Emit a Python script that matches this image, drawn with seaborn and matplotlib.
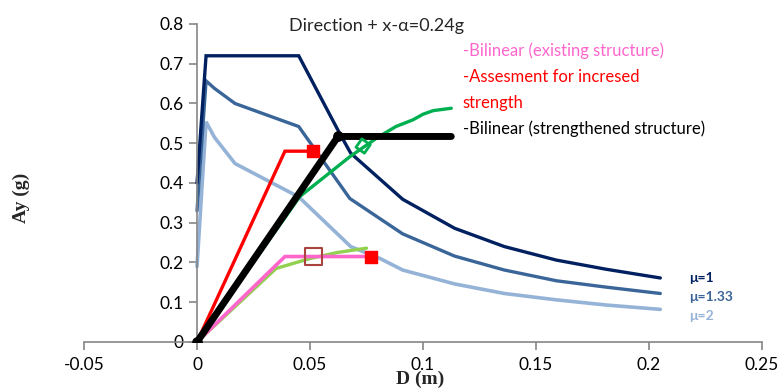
import matplotlib
matplotlib.use("Agg")
import matplotlib.pyplot as plt
import seaborn as sns
import pandas as pd

# demand spectra (ADRS) for the three ductility levels
spec_d = [0.0, 0.004, 0.045, 0.063, 0.068, 0.091, 0.114, 0.136, 0.159, 0.181, 0.205]
mu1_a = [0.40, 0.72, 0.72, 0.526, 0.475, 0.359, 0.286, 0.240, 0.206, 0.183, 0.161]
mu133_d = [0.0, 0.004, 0.0077, 0.0168, 0.045, 0.0676, 0.091, 0.114, 0.136, 0.159, 0.181, 0.205]
mu133_a = [0.33, 0.657, 0.638, 0.600, 0.542, 0.361, 0.272, 0.216, 0.181, 0.154, 0.138, 0.122]
mu2_d = [0.0, 0.004, 0.0077, 0.0168, 0.045, 0.068, 0.081, 0.091, 0.114, 0.136, 0.159, 0.181, 0.205]
mu2_a = [0.19, 0.554, 0.515, 0.449, 0.365, 0.240, 0.210, 0.181, 0.146, 0.122, 0.106, 0.093, 0.082]

# capacity curves
cap_new_d = [0.0, 0.0455, 0.0676, 0.080, 0.088, 0.0956, 0.100, 0.1045, 0.1125]
cap_new_a = [0.0, 0.366, 0.466, 0.515, 0.542, 0.559, 0.573, 0.582, 0.588]
cap_old_d = [0.0, 0.035, 0.050, 0.062, 0.075]
cap_old_a = [0.0, 0.185, 0.210, 0.225, 0.236]

# bilinear idealisations
bil_old_d = [0.0, 0.0389, 0.0772]
bil_old_a = [0.0, 0.215, 0.215]
assess_d = [0.0, 0.0389, 0.0514]
assess_a = [0.0, 0.48, 0.48]
bil_new_d = [0.0, 0.0624, 0.1125]
bil_new_a = [0.0, 0.517, 0.517]

# performance points
pp_old = (0.0514, 0.215)
pp_old_end = (0.0772, 0.215)
pp_assess = (0.0514, 0.48)
pp_new = (0.0735, 0.493)

xticks = [-0.05, 0, 0.05, 0.1, 0.15, 0.2, 0.25]
xtick_labels = ["-0.05", "0", "0.05", "0.1", "0.15", "0.2", "0.25"]
yticks = [0, 0.1, 0.2, 0.3, 0.4, 0.5, 0.6, 0.7, 0.8]
ytick_labels = ["0", "0.1", "0.2", "0.3", "0.4", "0.5", "0.6", "0.7", "0.8"]

sns.set_style("white")
plt.rcParams['font.family'] = ['Lato', 'DejaVu Sans']

fig = plt.figure(figsize=(7.83, 3.88), dpi=100)
ax = fig.add_axes([0.1073, 0.1186, 0.8659, 0.8196])

DARK = "#002060"
MED = "#3A6599"
LIGHT = "#95B3D7"

def line(d, a, color, lw, z=2):
    sns.lineplot(x=d, y=a, sort=False, ax=ax, color=color, lw=lw, zorder=z,
                 estimator=None, solid_joinstyle="miter")

line(mu2_d, mu2_a, LIGHT, 2.6)
line(mu133_d, mu133_a, MED, 2.4)
line(spec_d, mu1_a, DARK, 2.4)
line(cap_new_d, cap_new_a, "#00B050", 2.4, 3)
line(cap_old_d, cap_old_a, "#92D050", 2.4, 3)
line(bil_old_d, bil_old_a, "#FF66CC", 2.6, 4)
line(assess_d, assess_a, "#FF0000", 2.4, 4)
line(bil_new_d, bil_new_a, "#000000", 5, 5)

ax.scatter([bil_new_d[0], bil_new_d[1]], [bil_new_a[0], bil_new_a[1]], s=45,
           color="black", zorder=6)
ax.scatter([pp_old_end[0], pp_assess[0]], [pp_old_end[1], pp_assess[1]],
           marker="s", s=85, color="#FF0000", zorder=6)
ax.scatter([pp_old[0]], [pp_old[1]], marker="s", s=150, facecolor="none",
           edgecolor="#A9443F", lw=1.5, zorder=6)
ax.scatter([pp_new[0]], [pp_new[1]], marker=(4, 0, 10), s=110, facecolor="none",
           edgecolor="#00B050", lw=2, zorder=6)

ax.set_xlim(-0.05, 0.25)
ax.set_ylim(0, 0.8)
ax.set_xticks(xticks)
ax.set_xticklabels(xtick_labels)
ax.set_yticks(yticks)
ax.set_yticklabels(ytick_labels)

ax.spines['left'].set_position(('data', 0))
ax.spines['top'].set_visible(False)
ax.spines['right'].set_visible(False)
for s in ['left', 'bottom']:
    ax.spines[s].set_color("#868686")
    ax.spines[s].set_linewidth(1.2)
ax.tick_params(axis='both', direction='out', length=6, width=1.2, color="#868686",
               labelsize=12.5, labelcolor="black", left=True, bottom=True)
ax.tick_params(axis='x', pad=5)
ax.set_xlabel("")
ax.set_ylabel("")

fig.text(0.027, 0.49, "Ay (g)", rotation=90, ha="center", va="center",
         family="Liberation Serif", weight="bold", fontsize=14)
fig.text(0.537, 0.022, "D (m)", ha="center", va="center",
         family="Liberation Serif", weight="bold", fontsize=14)

ax.text(0.0795, 0.795, "Direction + x-α=0.24g", ha="center", va="center", fontsize=13)
ax.text(0.1175, 0.733, "-Bilinear (existing structure)", color="#FF66CC", fontsize=12, va="center")
ax.text(0.1175, 0.667, "-Assesment for incresed", color="#FF0000", fontsize=12, va="center")
ax.text(0.1175, 0.601, "strength", color="#FF0000", fontsize=12, va="center")
ax.text(0.1175, 0.536, "-Bilinear (strengthened structure)", color="black", fontsize=12, va="center")

ax.text(0.2178, 0.161, "μ=1", color=DARK, fontsize=10, weight="bold", va="center")
ax.text(0.2178, 0.113, "μ=1.33", color=MED, fontsize=10, weight="bold", va="center")
ax.text(0.2178, 0.065, "μ=2", color=LIGHT, fontsize=10, weight="bold", va="center")

fig.savefig("out.png", dpi=100)
